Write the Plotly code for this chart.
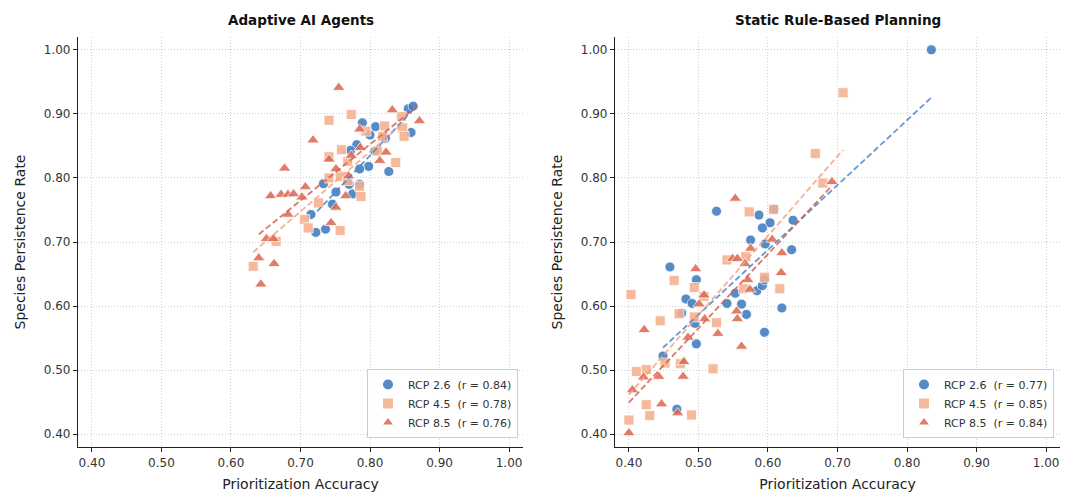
import numpy as np
import plotly.graph_objects as go

# ---------------- data ----------------
panel_titles = ["Adaptive AI Agents", "Static Rule-Based Planning"]
series_names = ["RCP 2.6", "RCP 4.5", "RCP 8.5"]
r_labels_left = ["0.84", "0.78", "0.76"]
r_labels_right = ["0.77", "0.85", "0.84"]
tick_vals = [0.40, 0.50, 0.60, 0.70, 0.80, 0.90, 1.00]

# Left panel (Adaptive AI Agents)
left_rcp26_x = [0.855, 0.862, 0.789, 0.808, 0.800, 0.859, 0.822, 0.781, 0.772, 0.807,
                0.798, 0.785, 0.827, 0.770, 0.785, 0.751, 0.775, 0.746, 0.715, 0.722,
                0.736, 0.733]
left_rcp26_y = [0.908, 0.912, 0.886, 0.880, 0.867, 0.871, 0.862, 0.852, 0.843, 0.842,
                0.818, 0.814, 0.810, 0.790, 0.790, 0.778, 0.775, 0.759, 0.743, 0.715,
                0.720, 0.791]

left_rcp45_x = [0.773, 0.741, 0.845, 0.821, 0.794, 0.818, 0.847, 0.849, 0.759, 0.741,
                0.811, 0.837, 0.768, 0.741, 0.757, 0.768, 0.785, 0.787, 0.706, 0.711,
                0.757, 0.665, 0.632, 0.726]
left_rcp45_y = [0.899, 0.890, 0.896, 0.881, 0.873, 0.865, 0.878, 0.865, 0.844, 0.833,
                0.842, 0.824, 0.826, 0.800, 0.802, 0.796, 0.787, 0.771, 0.735, 0.722,
                0.718, 0.701, 0.662, 0.761]

left_rcp85_x = [0.755, 0.832, 0.871, 0.785, 0.718, 0.786, 0.773, 0.823, 0.814, 0.741,
                0.677, 0.751, 0.769, 0.707, 0.657, 0.672, 0.682, 0.690, 0.702, 0.765,
                0.682, 0.751, 0.744, 0.651, 0.661, 0.640, 0.662, 0.643]
left_rcp85_y = [0.941, 0.906, 0.889, 0.876, 0.859, 0.847, 0.835, 0.840, 0.827, 0.829,
                0.815, 0.814, 0.803, 0.786, 0.772, 0.774, 0.774, 0.775, 0.770, 0.772,
                0.743, 0.754, 0.730, 0.705, 0.705, 0.675, 0.666, 0.634]

# Right panel (Static Rule-Based Planning)
right_rcp26_x = [0.835, 0.526, 0.587, 0.603, 0.592, 0.609, 0.636, 0.575, 0.596, 0.634,
                 0.459, 0.497, 0.482, 0.491, 0.476, 0.495, 0.497, 0.541, 0.553, 0.562,
                 0.569, 0.584, 0.592, 0.595, 0.620, 0.595, 0.449, 0.469]
right_rcp26_y = [1.000, 0.748, 0.742, 0.730, 0.722, 0.751, 0.734, 0.703, 0.697, 0.688,
                 0.661, 0.641, 0.611, 0.604, 0.589, 0.573, 0.541, 0.604, 0.620, 0.603,
                 0.587, 0.624, 0.632, 0.641, 0.597, 0.559, 0.522, 0.439]

right_rcp45_x = [0.708, 0.668, 0.679, 0.573, 0.608, 0.403, 0.465, 0.494, 0.508, 0.445,
                 0.472, 0.494, 0.526, 0.541, 0.568, 0.565, 0.595, 0.617, 0.411, 0.425,
                 0.452, 0.474, 0.521, 0.425, 0.430, 0.490, 0.400]
right_rcp45_y = [0.933, 0.838, 0.792, 0.747, 0.751, 0.618, 0.640, 0.629, 0.615, 0.577,
                 0.588, 0.583, 0.574, 0.672, 0.677, 0.627, 0.645, 0.627, 0.498, 0.501,
                 0.511, 0.510, 0.502, 0.446, 0.429, 0.430, 0.422]

right_rcp85_x = [0.553, 0.692, 0.496, 0.508, 0.501, 0.509, 0.422, 0.485, 0.528, 0.555,
                 0.556, 0.562, 0.549, 0.556, 0.567, 0.575, 0.571, 0.574, 0.606, 0.620,
                 0.619, 0.479, 0.478, 0.421, 0.443, 0.405, 0.447, 0.470, 0.400]
right_rcp85_y = [0.768, 0.794, 0.658, 0.617, 0.603, 0.580, 0.563, 0.551, 0.557, 0.592,
                 0.580, 0.537, 0.674, 0.674, 0.666, 0.690, 0.641, 0.626, 0.704, 0.683,
                 0.652, 0.513, 0.490, 0.489, 0.490, 0.469, 0.447, 0.433, 0.402]

# ---------------- style ----------------
marker_colors = ["#3f7cbf", "#f5b08f", "#dd6b55"]
line_colors = ["#4d86cc", "#f3a683", "#d9604a"]
symbols = ["circle", "square", "triangle-up"]

fig = go.Figure()

panels = [
    dict(xs=[left_rcp26_x, left_rcp45_x, left_rcp85_x],
         ys=[left_rcp26_y, left_rcp45_y, left_rcp85_y],
         r=r_labels_left, xa="x", ya="y", legend="legend"),
    dict(xs=[right_rcp26_x, right_rcp45_x, right_rcp85_x],
         ys=[right_rcp26_y, right_rcp45_y, right_rcp85_y],
         r=r_labels_right, xa="x2", ya="y2", legend="legend2"),
]

for p in panels:
    for i in range(3):
        x = np.array(p["xs"][i])
        y = np.array(p["ys"][i])
        fig.add_trace(go.Scatter(
            x=x, y=y, mode="markers",
            name=f"{series_names[i]}  (r = {p['r'][i]})",
            marker=dict(symbol=symbols[i], size=10 if i != 2 else 11,
                        color=marker_colors[i], opacity=0.88,
                        line=dict(color="white", width=0.8)),
            xaxis=p["xa"], yaxis=p["ya"], legend=p["legend"],
        ))
    for i in range(3):
        x = np.array(p["xs"][i])
        y = np.array(p["ys"][i])
        k, b = np.polyfit(x, y, 1)
        xl = np.array([x.min(), x.max()])
        fig.add_trace(go.Scatter(
            x=xl, y=k * xl + b, mode="lines", showlegend=False,
            line=dict(color=line_colors[i], width=1.8, dash="6px,3px"),
            opacity=0.85, xaxis=p["xa"], yaxis=p["ya"], hoverinfo="skip",
        ))

axis_common = dict(
    range=[0.38, 1.02], tickvals=tick_vals, tickformat=".2f",
    showline=True, linecolor="#222222", linewidth=1.2,
    ticks="outside", ticklen=4, tickcolor="#222222",
    showgrid=True, gridcolor="#cfcfcf", griddash="1px,2px", gridwidth=1,
    zeroline=False, tickfont=dict(family="DejaVu Sans", size=12, color="#333333"),
    mirror=False,
)

y_dom = [1 - 447 / 497, 1 - 37 / 497]
fig.update_layout(
    width=1072, height=497,
    margin=dict(l=0, r=0, t=0, b=0),
    paper_bgcolor="white", plot_bgcolor="white",
    font=dict(family="DejaVu Sans", color="#222222"),
    xaxis=dict(axis_common, domain=[78 / 1072, 523 / 1072], anchor="y",
               title=dict(text="Prioritization Accuracy", font=dict(size=14), standoff=10)),
    yaxis=dict(axis_common, domain=y_dom, anchor="x",
               title=dict(text="Species Persistence Rate", font=dict(size=14), standoff=14)),
    xaxis2=dict(axis_common, domain=[615 / 1072, 1060 / 1072], anchor="y2",
                title=dict(text="Prioritization Accuracy", font=dict(size=14), standoff=10)),
    yaxis2=dict(axis_common, domain=y_dom, anchor="x2",
                title=dict(text="Species Persistence Rate", font=dict(size=14), standoff=14)),
    legend=dict(x=518 / 1072, y=1 - 438 / 497, xanchor="right", yanchor="bottom",
                bgcolor="rgba(255,255,255,0.9)", bordercolor="#cccccc", borderwidth=1,
                font=dict(size=11, color="#333333"), itemsizing="constant",
                tracegroupgap=2),
    legend2=dict(x=1054 / 1072, y=1 - 438 / 497, xanchor="right", yanchor="bottom",
                 bgcolor="rgba(255,255,255,0.9)", bordercolor="#cccccc", borderwidth=1,
                 font=dict(size=11, color="#333333"), itemsizing="constant",
                 tracegroupgap=2),
    annotations=[
        dict(text=f"<b>{panel_titles[0]}</b>", x=(78 + 523) / 2 / 1072, y=1 - 20 / 497,
             xref="paper", yref="paper", showarrow=False, xanchor="center", yanchor="middle",
             font=dict(size=13.5, color="#111111")),
        dict(text=f"<b>{panel_titles[1]}</b>", x=(615 + 1060) / 2 / 1072, y=1 - 20 / 497,
             xref="paper", yref="paper", showarrow=False, xanchor="center", yanchor="middle",
             font=dict(size=13.5, color="#111111")),
    ],
)

fig.write_html("out.html")
